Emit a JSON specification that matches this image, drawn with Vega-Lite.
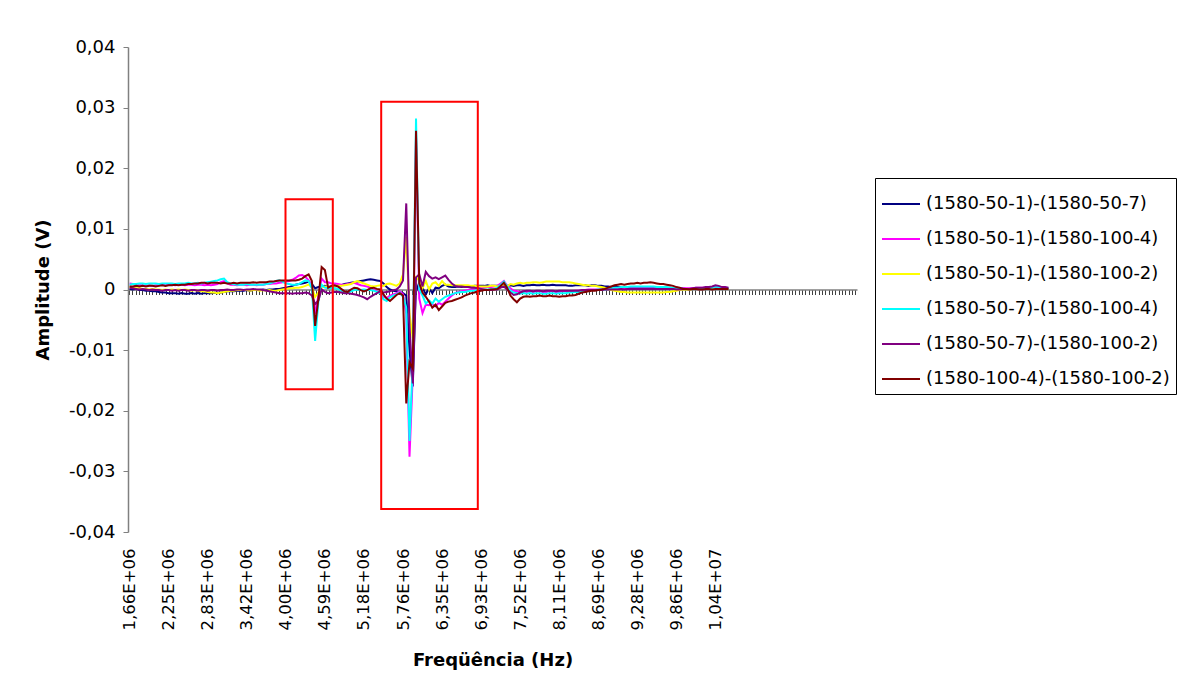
{
"$schema": "https://vega.github.io/schema/vega-lite/v6.json",
"width": 729,
"height": 485,
"autosize": {"type": "none"},
"padding": {"left": 128, "top": 47, "right": 321, "bottom": 164},
"background": "white",
"config": {"view": {"stroke": null}, "font": "DejaVu Sans"},
"layer": [
{
"data": {"values": [
{"f":1660156,"s1":0.0001,"s2":0.001,"s3":0.0004,"s4":0.0008,"s5":0.0003,"s6":0.0005},
{"f":1708984,"s1":0,"s2":0.0009,"s3":0.0003,"s4":0.0009,"s5":0.0002,"s6":0.0005},
{"f":1757813,"s1":0.0001,"s2":0.0008,"s3":0.0002,"s4":0.0009,"s5":0.0001,"s6":0.0006},
{"f":1806641,"s1":-0.0001,"s2":0.0007,"s3":0.0002,"s4":0.001,"s5":0,"s6":0.0005},
{"f":1855469,"s1":-0.0001,"s2":0.0007,"s3":0.0001,"s4":0.001,"s5":0.0001,"s6":0.0006},
{"f":1904297,"s1":-0.0002,"s2":0.0006,"s3":0.0001,"s4":0.0009,"s5":0,"s6":0.0005},
{"f":1953125,"s1":-0.0002,"s2":0.0007,"s3":0,"s4":0.001,"s5":-0.0001,"s6":0.0006},
{"f":2001953,"s1":-0.0003,"s2":0.0006,"s3":0.0001,"s4":0.001,"s5":0,"s6":0.0006},
{"f":2050781,"s1":-0.0003,"s2":0.0007,"s3":0,"s4":0.001,"s5":-0.0001,"s6":0.0005},
{"f":2099609,"s1":-0.0004,"s2":0.0007,"s3":0,"s4":0.0009,"s5":-0.0001,"s6":0.0006},
{"f":2148438,"s1":-0.0005,"s2":0.0008,"s3":-0.0001,"s4":0.001,"s5":-0.0002,"s6":0.0007},
{"f":2197266,"s1":-0.0005,"s2":0.0007,"s3":0,"s4":0.001,"s5":-0.0001,"s6":0.0006},
{"f":2246094,"s1":-0.0006,"s2":0.0008,"s3":-0.0001,"s4":0.001,"s5":-0.0001,"s6":0.0007},
{"f":2294922,"s1":-0.0006,"s2":0.0008,"s3":0,"s4":0.001,"s5":-0.0002,"s6":0.0007},
{"f":2343750,"s1":-0.0006,"s2":0.0007,"s3":-0.0001,"s4":0.0009,"s5":-0.0001,"s6":0.0008},
{"f":2392578,"s1":-0.0007,"s2":0.0008,"s3":0,"s4":0.001,"s5":-0.0002,"s6":0.0007},
{"f":2441406,"s1":-0.0006,"s2":0.0008,"s3":-0.0001,"s4":0.001,"s5":-0.0001,"s6":0.0008},
{"f":2490234,"s1":-0.0007,"s2":0.0007,"s3":0,"s4":0.001,"s5":-0.0001,"s6":0.0008},
{"f":2539063,"s1":-0.0007,"s2":0.0008,"s3":-0.0001,"s4":0.0011,"s5":-0.0002,"s6":0.0009},
{"f":2587891,"s1":-0.0006,"s2":0.0008,"s3":-0.0002,"s4":0.001,"s5":-0.0001,"s6":0.0009},
{"f":2636719,"s1":-0.0007,"s2":0.0007,"s3":-0.0001,"s4":0.001,"s5":-0.0001,"s6":0.001},
{"f":2685547,"s1":-0.0006,"s2":0.0008,"s3":-0.0002,"s4":0.0011,"s5":-0.0002,"s6":0.001},
{"f":2734375,"s1":-0.0007,"s2":0.0008,"s3":-0.0003,"s4":0.001,"s5":-0.0001,"s6":0.0011},
{"f":2783203,"s1":-0.0006,"s2":0.0007,"s3":-0.0003,"s4":0.0011,"s5":-0.0001,"s6":0.0011},
{"f":2832031,"s1":-0.0006,"s2":0.0008,"s3":-0.0004,"s4":0.0012,"s5":-0.0002,"s6":0.001},
{"f":2880859,"s1":-0.0006,"s2":0.0007,"s3":-0.0005,"s4":0.0013,"s5":-0.0001,"s6":0.0011},
{"f":2929688,"s1":-0.0005,"s2":0.0008,"s3":-0.0005,"s4":0.0014,"s5":-0.0001,"s6":0.0011},
{"f":2978516,"s1":-0.0006,"s2":0.0009,"s3":-0.0006,"s4":0.0015,"s5":-0.0002,"s6":0.0011},
{"f":3027344,"s1":-0.0005,"s2":0.0012,"s3":-0.0005,"s4":0.0017,"s5":-0.0001,"s6":0.001},
{"f":3076172,"s1":-0.0004,"s2":0.0014,"s3":-0.0004,"s4":0.0018,"s5":-0.0001,"s6":0.0011},
{"f":3125000,"s1":-0.0003,"s2":0.001,"s3":-0.0003,"s4":0.0012,"s5":0,"s6":0.001},
{"f":3173828,"s1":-0.0003,"s2":0.0008,"s3":-0.0002,"s4":0.001,"s5":-0.0001,"s6":0.001},
{"f":3222656,"s1":-0.0003,"s2":0.0008,"s3":-0.0002,"s4":0.0009,"s5":-0.0001,"s6":0.0011},
{"f":3271484,"s1":-0.0002,"s2":0.0007,"s3":-0.0001,"s4":0.0008,"s5":0,"s6":0.001},
{"f":3320313,"s1":-0.0002,"s2":0.0008,"s3":-0.0001,"s4":0.0008,"s5":0,"s6":0.0011},
{"f":3369141,"s1":-0.0002,"s2":0.0008,"s3":-0.0001,"s4":0.0008,"s5":-0.0001,"s6":0.0011},
{"f":3417969,"s1":-0.0001,"s2":0.0007,"s3":-0.0001,"s4":0.0009,"s5":0,"s6":0.0011},
{"f":3466797,"s1":-0.0002,"s2":0.0008,"s3":-0.0002,"s4":0.0008,"s5":0,"s6":0.0011},
{"f":3515625,"s1":-0.0001,"s2":0.0008,"s3":-0.0001,"s4":0.0008,"s5":0.0001,"s6":0.0012},
{"f":3564453,"s1":-0.0001,"s2":0.0007,"s3":-0.0001,"s4":0.0008,"s5":0,"s6":0.0011},
{"f":3613281,"s1":-0.0001,"s2":0.0008,"s3":-0.0002,"s4":0.0008,"s5":0,"s6":0.0012},
{"f":3662109,"s1":0,"s2":0.0008,"s3":-0.0001,"s4":0.0008,"s5":-0.0001,"s6":0.0012},
{"f":3710938,"s1":-0.0001,"s2":0.0009,"s3":-0.0002,"s4":0.0009,"s5":-0.0002,"s6":0.0012},
{"f":3759766,"s1":0,"s2":0.0009,"s3":-0.0001,"s4":0.001,"s5":-0.0003,"s6":0.0013},
{"f":3808594,"s1":0,"s2":0.001,"s3":-0.0002,"s4":0.0012,"s5":-0.0004,"s6":0.0013},
{"f":3857422,"s1":0.0001,"s2":0.001,"s3":-0.0002,"s4":0.0014,"s5":-0.0005,"s6":0.0014},
{"f":3906250,"s1":0.0001,"s2":0.0011,"s3":-0.0001,"s4":0.0015,"s5":-0.0006,"s6":0.0015},
{"f":3955078,"s1":0.0002,"s2":0.0012,"s3":0,"s4":0.0013,"s5":-0.0006,"s6":0.0015},
{"f":4003906,"s1":0.0003,"s2":0.0013,"s3":0.0001,"s4":0.001,"s5":-0.0006,"s6":0.0015},
{"f":4052734,"s1":0.0004,"s2":0.0014,"s3":0.0002,"s4":0.0009,"s5":-0.0006,"s6":0.0015},
{"f":4101563,"s1":0.0006,"s2":0.0016,"s3":0.0002,"s4":0.0008,"s5":-0.0007,"s6":0.0015},
{"f":4150391,"s1":0.0008,"s2":0.0019,"s3":0.0003,"s4":0.0008,"s5":-0.0006,"s6":0.0015},
{"f":4199219,"s1":0.0009,"s2":0.0023,"s3":0.0003,"s4":0.0009,"s5":-0.0006,"s6":0.0016},
{"f":4248047,"s1":0.001,"s2":0.0024,"s3":0.0004,"s4":0.0012,"s5":-0.0006,"s6":0.0018},
{"f":4296875,"s1":0.0011,"s2":0.0021,"s3":0.0006,"s4":0.0015,"s5":-0.0005,"s6":0.0022},
{"f":4345703,"s1":0.0013,"s2":0.0015,"s3":0.0008,"s4":0.0014,"s5":-0.0006,"s6":0.0025},
{"f":4394531,"s1":0.0009,"s2":0.0006,"s3":0.0004,"s4":0.0002,"s5":-0.001,"s6":0.0014},
{"f":4443359,"s1":0.0002,"s2":-0.004,"s3":-0.0012,"s4":-0.0085,"s5":-0.0024,"s6":-0.006},
{"f":4492188,"s1":0.0004,"s2":-0.001,"s3":-0.0005,"s4":-0.002,"s5":-0.0018,"s6":-0.0015},
{"f":4541016,"s1":0.0005,"s2":0.0018,"s3":0.0003,"s4":0.0008,"s5":0,"s6":0.0037},
{"f":4589844,"s1":0.0006,"s2":0.0012,"s3":0.0005,"s4":0.0003,"s5":-0.0004,"s6":0.0032},
{"f":4638672,"s1":0.0004,"s2":0.0012,"s3":0.0004,"s4":0.0002,"s5":-0.0006,"s6":0.0003},
{"f":4687500,"s1":0.0005,"s2":0.001,"s3":0.0005,"s4":0.0003,"s5":-0.0005,"s6":0.0006},
{"f":4736328,"s1":0.0005,"s2":0.001,"s3":0.0005,"s4":0.0002,"s5":-0.0004,"s6":0.0007},
{"f":4785156,"s1":0.0006,"s2":0.0009,"s3":0.0006,"s4":0.0001,"s5":-0.0004,"s6":0.0005},
{"f":4833984,"s1":0.0007,"s2":0.0008,"s3":0.0006,"s4":-0.0002,"s5":-0.0005,"s6":0.0001},
{"f":4882813,"s1":0.0009,"s2":0.0008,"s3":0.0007,"s4":-0.0005,"s5":-0.0006,"s6":-0.0003},
{"f":4931641,"s1":0.001,"s2":0.0009,"s3":0.0008,"s4":-0.0005,"s5":-0.0006,"s6":-0.0004},
{"f":4980469,"s1":0.0011,"s2":0.001,"s3":0.0009,"s4":-0.0003,"s5":-0.0007,"s6":0},
{"f":5029297,"s1":0.0012,"s2":0.0011,"s3":0.0012,"s4":-0.0001,"s5":-0.0008,"s6":0.0003},
{"f":5078125,"s1":0.0013,"s2":0.0009,"s3":0.0014,"s4":0,"s5":-0.0009,"s6":0.0002},
{"f":5126953,"s1":0.0014,"s2":0.0007,"s3":0.0012,"s4":-0.0001,"s5":-0.0011,"s6":-0.0001},
{"f":5175781,"s1":0.0015,"s2":0.0006,"s3":0.001,"s4":0,"s5":-0.0013,"s6":-0.0003},
{"f":5224609,"s1":0.0016,"s2":0.0005,"s3":0.0008,"s4":-0.0001,"s5":-0.0016,"s6":-0.0001},
{"f":5273438,"s1":0.0017,"s2":0.0003,"s3":0.0006,"s4":-0.0001,"s5":-0.0012,"s6":0.0002},
{"f":5322266,"s1":0.0016,"s2":0,"s3":0.0005,"s4":-0.0002,"s5":-0.0009,"s6":0.0003},
{"f":5371094,"s1":0.0015,"s2":-0.0003,"s3":0.0006,"s4":-0.0004,"s5":-0.0006,"s6":0.0001},
{"f":5419922,"s1":0.0014,"s2":-0.0005,"s3":0.0007,"s4":-0.0006,"s5":-0.0003,"s6":0},
{"f":5468750,"s1":0.001,"s2":-0.0012,"s3":0.0006,"s4":-0.0016,"s5":-0.0005,"s6":-0.0008},
{"f":5517578,"s1":0.0004,"s2":-0.0014,"s3":0.0009,"s4":-0.0019,"s5":-0.0004,"s6":-0.0015},
{"f":5566406,"s1":0,"s2":-0.001,"s3":0.001,"s4":-0.0013,"s5":-0.0003,"s6":-0.0019},
{"f":5615234,"s1":-0.0002,"s2":-0.0008,"s3":0.0008,"s4":-0.001,"s5":-0.0001,"s6":-0.0014},
{"f":5664063,"s1":-0.0003,"s2":-0.0006,"s3":0.0006,"s4":-0.0008,"s5":0,"s6":-0.0009},
{"f":5712891,"s1":-0.0004,"s2":-0.0003,"s3":0.001,"s4":-0.0005,"s5":0.0005,"s6":-0.0006},
{"f":5761719,"s1":-0.0006,"s2":-0.0008,"s3":0.0025,"s4":-0.0012,"s5":0.0015,"s6":-0.001},
{"f":5810547,"s1":-0.001,"s2":-0.004,"s3":0.0087,"s4":-0.003,"s5":0.0142,"s6":-0.0188},
{"f":5859375,"s1":-0.01,"s2":-0.0276,"s3":-0.004,"s4":-0.025,"s5":-0.006,"s6":-0.012},
{"f":5908203,"s1":-0.016,"s2":-0.014,"s3":-0.008,"s4":-0.012,"s5":-0.0155,"s6":-0.013},
{"f":5957031,"s1":0.001,"s2":0.025,"s3":0.002,"s4":0.0282,"s5":0.002,"s6":0.0262},
{"f":6005859,"s1":-0.0005,"s2":-0.0015,"s3":0.0015,"s4":0,"s5":0.0025,"s6":0.001},
{"f":6054688,"s1":0.0003,"s2":-0.0039,"s3":0.0002,"s4":-0.001,"s5":0.0005,"s6":-0.0005},
{"f":6103516,"s1":-0.0008,"s2":-0.0025,"s3":0.0014,"s4":-0.0023,"s5":0.0029,"s6":-0.0012},
{"f":6152344,"s1":0.0002,"s2":-0.0026,"s3":0,"s4":-0.0018,"s5":0.0022,"s6":-0.002},
{"f":6201172,"s1":-0.0006,"s2":-0.0024,"s3":0.001,"s4":-0.0023,"s5":0.0018,"s6":-0.003},
{"f":6250000,"s1":0.0003,"s2":-0.0028,"s3":0.0012,"s4":-0.0015,"s5":0.002,"s6":-0.0025},
{"f":6298828,"s1":0.0002,"s2":-0.0022,"s3":0.0006,"s4":-0.002,"s5":0.0017,"s6":-0.0034},
{"f":6347656,"s1":0.0006,"s2":-0.0025,"s3":0.0014,"s4":-0.0016,"s5":0.002,"s6":-0.0028},
{"f":6396484,"s1":0.0008,"s2":-0.002,"s3":0.0008,"s4":-0.0012,"s5":0.0023,"s6":-0.0022},
{"f":6445313,"s1":0.0005,"s2":-0.0015,"s3":0.0008,"s4":-0.001,"s5":0.0016,"s6":-0.002},
{"f":6494141,"s1":0.0004,"s2":-0.001,"s3":0.0007,"s4":-0.0008,"s5":0.001,"s6":-0.0019},
{"f":6542969,"s1":0.0004,"s2":-0.0006,"s3":0.0007,"s4":-0.0006,"s5":0.0006,"s6":-0.0017},
{"f":6591797,"s1":0.0005,"s2":-0.0004,"s3":0.0007,"s4":-0.0005,"s5":0.0005,"s6":-0.0015},
{"f":6640625,"s1":0.0004,"s2":-0.0003,"s3":0.0007,"s4":-0.0004,"s5":0.0005,"s6":-0.0013},
{"f":6689453,"s1":0.0005,"s2":-0.0002,"s3":0.0007,"s4":-0.0004,"s5":0.0004,"s6":-0.001},
{"f":6738281,"s1":0.0005,"s2":-0.0001,"s3":0.0007,"s4":-0.0003,"s5":0.0004,"s6":-0.0008},
{"f":6787109,"s1":0.0005,"s2":0,"s3":0.0006,"s4":-0.0002,"s5":0.0003,"s6":-0.0006},
{"f":6835938,"s1":0.0006,"s2":0.0001,"s3":0.0006,"s4":-0.0002,"s5":0.0003,"s6":-0.0005},
{"f":6884766,"s1":0.0006,"s2":0.0003,"s3":0.0005,"s4":-0.0001,"s5":0.0002,"s6":-0.0003},
{"f":6933594,"s1":0.0006,"s2":0.0004,"s3":0.0005,"s4":0,"s5":0.0001,"s6":-0.0002},
{"f":6982422,"s1":0.0006,"s2":0.0004,"s3":0.0005,"s4":0,"s5":0,"s6":-0.0001},
{"f":7031250,"s1":0.0007,"s2":0.0004,"s3":0.0005,"s4":0,"s5":-0.0001,"s6":-0.0001},
{"f":7080078,"s1":0.0006,"s2":0.0004,"s3":0.0006,"s4":0.0001,"s5":-0.0001,"s6":0},
{"f":7128906,"s1":0.0006,"s2":0.0005,"s3":0.0006,"s4":0.0001,"s5":0,"s6":0},
{"f":7177734,"s1":0.0006,"s2":0.0006,"s3":0.0005,"s4":0.0003,"s5":0,"s6":0.0001},
{"f":7226563,"s1":0.0005,"s2":0.001,"s3":0.0006,"s4":0.0008,"s5":0.0003,"s6":0.0006},
{"f":7275391,"s1":0.0004,"s2":0.0014,"s3":0.0008,"s4":0.0013,"s5":0.0005,"s6":0.0011},
{"f":7324219,"s1":0.0006,"s2":0.0006,"s3":0.0005,"s4":0.0005,"s5":0,"s6":0.0003},
{"f":7373047,"s1":0.0007,"s2":0.0002,"s3":0.0009,"s4":-0.0002,"s5":-0.0005,"s6":-0.001},
{"f":7421875,"s1":0.0006,"s2":-0.0002,"s3":0.0008,"s4":-0.0005,"s5":-0.0009,"s6":-0.0016},
{"f":7470703,"s1":0.0007,"s2":-0.0003,"s3":0.001,"s4":-0.0006,"s5":-0.0008,"s6":-0.0021},
{"f":7519531,"s1":0.0007,"s2":-0.0004,"s3":0.0011,"s4":-0.0007,"s5":-0.0005,"s6":-0.0015},
{"f":7568359,"s1":0.0006,"s2":-0.0003,"s3":0.001,"s4":-0.0006,"s5":-0.0003,"s6":-0.0012},
{"f":7617188,"s1":0.0007,"s2":-0.0004,"s3":0.0011,"s4":-0.0007,"s5":-0.0002,"s6":-0.0011},
{"f":7666016,"s1":0.0007,"s2":-0.0003,"s3":0.0011,"s4":-0.0006,"s5":-0.0002,"s6":-0.0012},
{"f":7714844,"s1":0.0008,"s2":-0.0004,"s3":0.0012,"s4":-0.0007,"s5":-0.0003,"s6":-0.0011},
{"f":7763672,"s1":0.0007,"s2":-0.0003,"s3":0.0012,"s4":-0.0006,"s5":-0.0002,"s6":-0.0011},
{"f":7812500,"s1":0.0007,"s2":-0.0003,"s3":0.0011,"s4":-0.0006,"s5":-0.0002,"s6":-0.001},
{"f":7861328,"s1":0.0008,"s2":-0.0004,"s3":0.0012,"s4":-0.0007,"s5":-0.0003,"s6":-0.0011},
{"f":7910156,"s1":0.0007,"s2":-0.0004,"s3":0.0013,"s4":-0.0007,"s5":-0.0002,"s6":-0.0011},
{"f":7958984,"s1":0.0007,"s2":-0.0003,"s3":0.0013,"s4":-0.0006,"s5":-0.0002,"s6":-0.001},
{"f":8007813,"s1":0.0008,"s2":-0.0003,"s3":0.0013,"s4":-0.0006,"s5":-0.0002,"s6":-0.0011},
{"f":8056641,"s1":0.0007,"s2":-0.0004,"s3":0.0013,"s4":-0.0007,"s5":-0.0003,"s6":-0.0011},
{"f":8105469,"s1":0.0007,"s2":-0.0004,"s3":0.0013,"s4":-0.0006,"s5":-0.0002,"s6":-0.0012},
{"f":8154297,"s1":0.0007,"s2":-0.0003,"s3":0.0012,"s4":-0.0006,"s5":-0.0002,"s6":-0.0011},
{"f":8203125,"s1":0.0007,"s2":-0.0003,"s3":0.0012,"s4":-0.0006,"s5":-0.0002,"s6":-0.0011},
{"f":8251953,"s1":0.0006,"s2":-0.0003,"s3":0.0012,"s4":-0.0005,"s5":-0.0002,"s6":-0.001},
{"f":8300781,"s1":0.0006,"s2":-0.0003,"s3":0.0011,"s4":-0.0005,"s5":-0.0002,"s6":-0.001},
{"f":8349609,"s1":0.0007,"s2":-0.0002,"s3":0.001,"s4":-0.0004,"s5":-0.0002,"s6":-0.0009},
{"f":8398438,"s1":0.0007,"s2":-0.0002,"s3":0.0009,"s4":-0.0004,"s5":-0.0002,"s6":-0.0007},
{"f":8447266,"s1":0.0007,"s2":-0.0001,"s3":0.0008,"s4":-0.0003,"s5":-0.0001,"s6":-0.0005},
{"f":8496094,"s1":0.0007,"s2":-0.0001,"s3":0.0007,"s4":-0.0002,"s5":-0.0001,"s6":-0.0004},
{"f":8544922,"s1":0.0006,"s2":0,"s3":0.0007,"s4":-0.0002,"s5":-0.0001,"s6":-0.0003},
{"f":8593750,"s1":0.0007,"s2":0,"s3":0.0006,"s4":-0.0001,"s5":-0.0001,"s6":-0.0002},
{"f":8642578,"s1":0.0007,"s2":0,"s3":0.0006,"s4":-0.0001,"s5":-0.0001,"s6":-0.0002},
{"f":8691406,"s1":0.0006,"s2":0,"s3":0.0005,"s4":0,"s5":-0.0001,"s6":-0.0001},
{"f":8740234,"s1":0.0006,"s2":0,"s3":0.0004,"s4":0,"s5":-0.0001,"s6":0},
{"f":8789063,"s1":0.0005,"s2":0.0001,"s3":0.0003,"s4":0,"s5":0,"s6":0.0001},
{"f":8837891,"s1":0.0005,"s2":0.0001,"s3":0.0001,"s4":0.0001,"s5":0,"s6":0.0003},
{"f":8886719,"s1":0.0004,"s2":0.0001,"s3":-0.0001,"s4":0.0002,"s5":0,"s6":0.0005},
{"f":8935547,"s1":0.0004,"s2":0.0001,"s3":-0.0002,"s4":0.0003,"s5":0,"s6":0.0007},
{"f":8984375,"s1":0.0004,"s2":0.0001,"s3":-0.0003,"s4":0.0003,"s5":0,"s6":0.0008},
{"f":9033203,"s1":0.0004,"s2":0.0001,"s3":-0.0004,"s4":0.0004,"s5":0.0001,"s6":0.0009},
{"f":9082031,"s1":0.0003,"s2":0.0001,"s3":-0.0004,"s4":0.0004,"s5":0,"s6":0.0008},
{"f":9130859,"s1":0.0004,"s2":0.0001,"s3":-0.0005,"s4":0.0004,"s5":0.0001,"s6":0.0009},
{"f":9179688,"s1":0.0004,"s2":0.0002,"s3":-0.0005,"s4":0.0005,"s5":0.0001,"s6":0.001},
{"f":9228516,"s1":0.0004,"s2":0.0002,"s3":-0.0005,"s4":0.0005,"s5":0.0001,"s6":0.001},
{"f":9277344,"s1":0.0004,"s2":0.0002,"s3":-0.0005,"s4":0.0005,"s5":0.0001,"s6":0.0011},
{"f":9326172,"s1":0.0003,"s2":0.0002,"s3":-0.0005,"s4":0.0005,"s5":0.0001,"s6":0.001},
{"f":9375000,"s1":0.0004,"s2":0.0002,"s3":-0.0005,"s4":0.0005,"s5":0.0001,"s6":0.0011},
{"f":9423828,"s1":0.0004,"s2":0.0002,"s3":-0.0005,"s4":0.0005,"s5":0.0001,"s6":0.0011},
{"f":9472656,"s1":0.0003,"s2":0.0002,"s3":-0.0005,"s4":0.0005,"s5":0.0001,"s6":0.0012},
{"f":9521484,"s1":0.0004,"s2":0.0002,"s3":-0.0005,"s4":0.0005,"s5":0.0001,"s6":0.0011},
{"f":9570313,"s1":0.0003,"s2":0.0002,"s3":-0.0005,"s4":0.0004,"s5":0.0001,"s6":0.001},
{"f":9619141,"s1":0.0003,"s2":0.0002,"s3":-0.0005,"s4":0.0004,"s5":0.0001,"s6":0.0009},
{"f":9667969,"s1":0.0003,"s2":0.0002,"s3":-0.0005,"s4":0.0004,"s5":0.0001,"s6":0.0009},
{"f":9716797,"s1":0.0003,"s2":0.0002,"s3":-0.0004,"s4":0.0004,"s5":0.0001,"s6":0.0008},
{"f":9765625,"s1":0.0003,"s2":0.0001,"s3":-0.0004,"s4":0.0003,"s5":0.0001,"s6":0.0007},
{"f":9814453,"s1":0.0002,"s2":0.0001,"s3":-0.0003,"s4":0.0003,"s5":0.0001,"s6":0.0006},
{"f":9863281,"s1":0.0002,"s2":0.0001,"s3":-0.0002,"s4":0.0002,"s5":0,"s6":0.0004},
{"f":9912109,"s1":0.0002,"s2":0.0001,"s3":-0.0001,"s4":0.0002,"s5":0,"s6":0.0003},
{"f":9960938,"s1":0.0002,"s2":0.0002,"s3":0,"s4":0.0001,"s5":0.0001,"s6":0.0001},
{"f":10009766,"s1":0.0001,"s2":0.0002,"s3":0,"s4":0.0001,"s5":0.0001,"s6":0.0001},
{"f":10058594,"s1":0.0001,"s2":0.0002,"s3":0,"s4":0.0001,"s5":0.0001,"s6":0},
{"f":10107422,"s1":0.0001,"s2":0.0002,"s3":0.0001,"s4":0.0001,"s5":0.0002,"s6":0.0001},
{"f":10156250,"s1":0.0001,"s2":0.0003,"s3":0.0001,"s4":0.0001,"s5":0.0003,"s6":0.0001},
{"f":10205078,"s1":0.0001,"s2":0.0003,"s3":0.0001,"s4":0.0001,"s5":0.0003,"s6":0},
{"f":10253906,"s1":0.0001,"s2":0.0003,"s3":0.0001,"s4":0.0001,"s5":0.0003,"s6":0},
{"f":10302734,"s1":0.0001,"s2":0.0003,"s3":0.0001,"s4":0.0002,"s5":0.0004,"s6":0.0001},
{"f":10351563,"s1":0.0001,"s2":0.0003,"s3":0.0001,"s4":0.0002,"s5":0.0004,"s6":0.0001},
{"f":10400391,"s1":0.0001,"s2":0.0003,"s3":0.0001,"s4":0.0003,"s5":0.0005,"s6":0},
{"f":10449219,"s1":0.0001,"s2":0.0004,"s3":0.0001,"s4":0.0005,"s5":0.0007,"s6":0.0001},
{"f":10498047,"s1":0.0001,"s2":0.0003,"s3":0.0001,"s4":0.0004,"s5":0.0006,"s6":0.0001},
{"f":10546875,"s1":0.0001,"s2":0.0003,"s3":0.0001,"s4":0.0002,"s5":0.0004,"s6":0.0001},
{"f":10595703,"s1":0.0001,"s2":0.0003,"s3":0.0001,"s4":0.0002,"s5":0.0004,"s6":0.0001},
{"f":10644531,"s1":0.0001,"s2":0.0002,"s3":0.0001,"s4":0.0002,"s5":0.0003,"s6":0.0001}
]},
"transform": [
{"fold": ["s1","s2","s3","s4","s5","s6"], "as": ["id","v"]},
{"lookup": "id", "from": {"data": {"values": [
{"id":"s1","serie":"(1580-50-1)-(1580-50-7)"},
{"id":"s2","serie":"(1580-50-1)-(1580-100-4)"},
{"id":"s3","serie":"(1580-50-1)-(1580-100-2)"},
{"id":"s4","serie":"(1580-50-7)-(1580-100-4)"},
{"id":"s5","serie":"(1580-50-7)-(1580-100-2)"},
{"id":"s6","serie":"(1580-100-4)-(1580-100-2)"}
]}, "key": "id", "fields": ["serie"]}}
],
"mark": {"type": "line", "strokeWidth": 2},
"encoding": {
"x": {"field": "f", "type": "quantitative",
"scale": {"domain": [1635742, 12573242], "nice": false, "zero": false},
"axis": {"orient": "bottom", "offset": -242.5, "labels": false, "title": null, "grid": false, "tickCount": 224, "ticks": true, "tickSize": 5, "tickColor": "#404040", "tickWidth": 1, "domainColor": "#808080", "domainWidth": 1.5}},
"y": {"field": "v", "type": "quantitative",
"scale": {"domain": [-0.04, 0.04], "nice": false, "zero": false},
"axis": {"orient": "left", "title": "Amplitude (V)", "values": [-0.04,-0.03,-0.02,-0.01,0,0.01,0.02,0.03,0.04],
"labelExpr": "datum.value == 0 ? '0' : (datum.value < 0 ? '-' : '') + replace(format(abs(datum.value), '.2f'), '.', ',')",
"grid": false, "tickSize": 5, "tickColor": "#808080", "domainColor": "#808080", "domainWidth": 1.5,
"labelFont": "DejaVu Sans", "labelFontSize": 18, "labelColor": "black", "labelPadding": 8, "labelFlush": false, "labelOverlap": false,
"titleFont": "DejaVu Sans", "titleFontSize": 18, "titleFontWeight": "bold", "titleColor": "black", "titlePadding": 16}},
"color": {"field": "serie", "type": "nominal",
"scale": {"domain": ["(1580-50-1)-(1580-50-7)","(1580-50-1)-(1580-100-4)","(1580-50-1)-(1580-100-2)","(1580-50-7)-(1580-100-4)","(1580-50-7)-(1580-100-2)","(1580-100-4)-(1580-100-2)"],
"range": ["#000080","#FF00FF","#FFFF00","#00FFFF","#800080","#800000"]},
"legend": {"orient": "none", "legendX": 747, "legendY": 131, "title": null, "symbolType": "stroke", "symbolSize": 1444, "symbolStrokeWidth": 2,
"labelFont": "DejaVu Sans", "labelFontSize": 18, "labelColor": "black", "labelOffset": 5, "labelLimit": 400, "padding": 6, "rowPadding": 6,
"strokeColor": "black", "fillColor": "white", "cornerRadius": 0}}
}
},
{
"data": {"values": [
{"f_ini": 3998778, "f_fim": 4708438, "v_min": -0.01646, "v_max": 0.01488},
{"f_ini": 5434603, "f_fim": 6883931, "v_min": -0.03621, "v_max": 0.03098}
]},
"mark": {"type": "rect", "fill": null, "fillOpacity": 0, "stroke": "#FF0000", "strokeWidth": 2},
"encoding": {
"x": {"field": "f_ini", "type": "quantitative",
"axis": {"orient": "bottom", "values": [1660156,2246094,2832031,3417969,4003906,4589844,5175781,5761719,6347656,6933594,7519531,8105469,8691406,9277344,9863281,10449219],
"labelExpr": "datum.value < 1e7 ? replace(format(datum.value / 1e6, '.2f'), '.', ',') + 'E+06' : replace(format(datum.value / 1e7, '.2f'), '.', ',') + 'E+07'",
"ticks": false, "tickSize": 0, "domain": false, "grid": false, "labelAngle": -90, "labelAlign": "right", "labelBaseline": "middle",
"labelPadding": 16, "labelFont": "DejaVu Sans", "labelFontSize": 16.5, "labelColor": "black", "labelFlush": false, "labelOverlap": false,
"title": "Freqüência (Hz)", "titleFont": "DejaVu Sans", "titleFontSize": 18, "titleFontWeight": "bold", "titleColor": "black", "titlePadding": 22}},
"x2": {"field": "f_fim"},
"y": {"field": "v_min", "type": "quantitative", "axis": {"title": "Amplitude (V)"}},
"y2": {"field": "v_max"}
}
}
],
"resolve": {"axis": {"x": "independent"}}
}
